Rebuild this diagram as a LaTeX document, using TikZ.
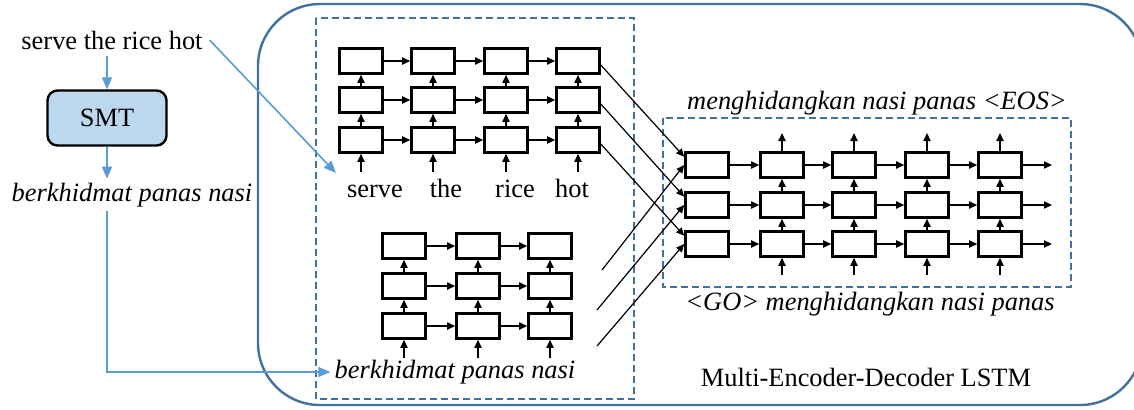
\documentclass[tikz,border=0pt]{standalone}
\usepackage{fontspec}
\setmainfont{Liberation Serif}
\usetikzlibrary{arrows.meta}
\definecolor{smtfill}{HTML}{BDD7EE}
\definecolor{frameblue}{HTML}{41719C}
\definecolor{linkblue}{HTML}{5B9BD5}

\begin{document}
\begin{tikzpicture}[
  x=0.5pt, y=-0.5pt,
  every node/.style={font=\fontsize{13.2}{15}\selectfont},
  cell/.style     = {rectangle, draw=black, line width=1.3pt, minimum width=21.5pt, minimum height=12.5pt, inner sep=0pt},
  smtbox/.style   = {rectangle, draw=black, line width=1.2pt, fill=smtfill, rounded corners=5pt, minimum width=59.5pt, minimum height=27.5pt},
  word/.style     = {inner sep=2pt, anchor=base},
  sent/.style     = {font=\fontsize{13.2}{15}\selectfont\itshape, inner sep=2pt},
  arrow/.style    = {-{Triangle[length=4pt, width=3.6pt]}, line width=0.6pt},
  link/.style     = {-{Triangle[length=6pt, width=5pt]}, draw=linkblue, line width=0.8pt},
  groupbox/.style = {draw=frameblue, line width=1pt, dash pattern=on 3.5pt off 2pt},
  outerbox/.style = {draw=frameblue, line width=1.2pt, rounded corners=31pt}
]
\useasboundingbox (0,0) rectangle (1134,409);

%% OUTER FRAME AND GROUPS
\begin{scope}
  \clip (0,0) rectangle (1134,409);
  \draw[outerbox] (258,4) rectangle (1142,405);
\end{scope}
\draw[groupbox] (316,18) rectangle (634,399);
\draw[groupbox] (663,118) rectangle (1071,287);

%% LEFT: SMT pipeline
\node       (src)   at (112, 40) {serve the rice hot};
\node[smtbox](smt)  at (107,118) {SMT};
\node[sent] (hyp)   at (132,195) {berkhidmat panas nasi};

%% ENCODER 1: source words
\foreach \c/\x in {1/361, 2/433, 3/506, 4/578} {
  \foreach \r/\y in {1/61, 2/100, 3/140}
    \node[cell] (ea-\r-\c) at (\x,\y) {};
  \coordinate (ea-in-\c) at (\x,172);
  \draw[arrow] (ea-in-\c) -- (ea-3-\c);
  \draw[arrow] (ea-3-\c) -- (ea-2-\c);
  \draw[arrow] (ea-2-\c) -- (ea-1-\c);
}
\foreach \r in {1,2,3} {
  \foreach \c/\n in {1/2, 2/3, 3/4}
    \draw[arrow] (ea-\r-\c) -- (ea-\r-\n);
}
\node[word] (w-serve) at (375,197) {serve};
\node[word] (w-the)   at (446,197) {the};
\node[word] (w-rice)  at (515,197) {rice};
\node[word] (w-hot)   at (572,197) {hot};

%% ENCODER 2: SMT output
\foreach \c/\x in {1/404, 2/478, 3/550} {
  \foreach \r/\y in {1/246, 2/286, 3/326}
    \node[cell] (eb-\r-\c) at (\x,\y) {};
  \coordinate (eb-in-\c) at (\x,358);
  \draw[arrow] (eb-in-\c) -- (eb-3-\c);
  \draw[arrow] (eb-3-\c) -- (eb-2-\c);
  \draw[arrow] (eb-2-\c) -- (eb-1-\c);
}
\foreach \r in {1,2,3} {
  \foreach \c/\n in {1/2, 2/3}
    \draw[arrow] (eb-\r-\c) -- (eb-\r-\n);
}
\node[sent] (hypin) at (455,372) {berkhidmat panas nasi};

%% DECODER
\foreach \c/\x in {1/707, 2/782, 3/854, 4/927, 5/1000} {
  \foreach \r/\y in {1/165, 2/205, 3/244}
    \node[cell] (dd-\r-\c) at (\x,\y) {};
}
\foreach \c/\x in {2/782, 3/854, 4/927, 5/1000} {
  \coordinate (dd-in-\c)  at (\x,275);
  \coordinate (dd-out-\c) at (\x,133);
  \draw[arrow] (dd-in-\c) -- (dd-3-\c);
  \draw[arrow] (dd-3-\c) -- (dd-2-\c);
  \draw[arrow] (dd-2-\c) -- (dd-1-\c);
  \draw[arrow] (dd-1-\c) -- (dd-out-\c);
}
\foreach \r/\y in {1/165, 2/205, 3/244} {
  \coordinate (dd-end-\r) at (1052,\y);
  \draw[arrow] (dd-\r-5) -- (dd-end-\r);
  \foreach \c/\n in {1/2, 2/3, 3/4, 4/5}
    \draw[arrow] (dd-\r-\c) -- (dd-\r-\n);
}
\node[sent] (tgt)   at (877,103) {menghidangkan nasi panas <EOS>};
\node[sent] (golab) at (870,304) {<GO> menghidangkan nasi panas};
\node       (mel)   at (866,377) {Multi-Encoder-Decoder LSTM};

%% Encoder-to-decoder links
\coordinate (eb-out-1) at (602,270);
\coordinate (eb-out-2) at (597,310);
\coordinate (eb-out-3) at (597,346);
\foreach \r in {1,2,3} {
  \draw[arrow] (ea-\r-4.-10) -- (dd-\r-1.160);
  \draw[arrow] (eb-out-\r) -- (dd-\r-1.west);
}

%% Blue links
\draw[link] (smt.north |- src.south) -- (smt.north);
\draw[link] (smt.south) -- (smt.south |- hyp.north);
\draw[link] (hyp.south -| smt.south) |- (hypin.west);
\draw[link, shorten >=5pt] (src.east) -- (w-serve.north west);
\end{tikzpicture}
\end{document}
